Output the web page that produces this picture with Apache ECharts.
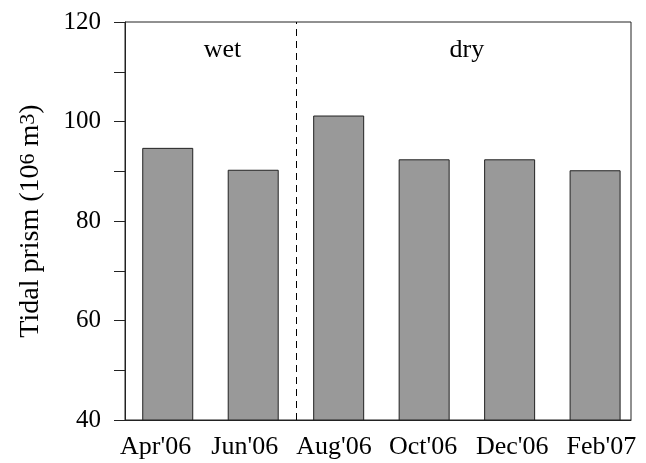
<!DOCTYPE html>
<html>
<head>
<meta charset="utf-8">
<script src="https://cdn.jsdelivr.net/npm/echarts@6/dist/echarts.min.js"></script>
<style>
  html, body { margin: 0; padding: 0; background: #fff; }
  #chart { width: 646px; height: 463px; }
</style>
</head>
<body>
<div id="chart"></div>
<script>
const months = ["Apr'06", "Jun'06", "Aug'06", "Oct'06", "Dec'06", "Feb'07"];
const prism = [94.7, 90.3, 101.2, 92.4, 92.4, 90.2];
const yTicks = [40, 60, 80, 100, 120];
const seasons = [
  { name: "wet", x: 0.64, y: 114.3 },
  { name: "dry", x: 3.5, y: 114.3 }
];
const seasonSplit = 1.5;

const font = "'Liberation Serif', 'Times New Roman', serif";
const chart = echarts.init(document.getElementById("chart"));

const option = {
  animation: false,
  textStyle: { fontFamily: font },
  grid: [
    { left: 125, top: 22, right: 15, bottom: 43, show: true, borderColor: "#222", borderWidth: 1 },
    // label strip: the month labels are spaced a little wider than the bars
    { left: 111, top: 22, width: 540, bottom: 43, show: false }
  ],
  xAxis: [
    {
      type: "value",
      gridIndex: 0,
      min: -0.5,
      max: 5.42,
      splitLine: { show: false },
      axisLine: { show: true, onZero: false, lineStyle: { color: "#222" } },
      axisTick: { show: false },
      axisLabel: { show: false }
    },
    {
      type: "category",
      gridIndex: 1,
      data: months,
      axisLine: { show: false },
      axisTick: { show: false },
      splitLine: { show: false },
      axisLabel: { color: "#000", fontSize: 26, fontFamily: font, margin: 14, interval: 0 }
    }
  ],
  yAxis: [
    {
      type: "value",
      gridIndex: 0,
      min: yTicks[0],
      max: yTicks[yTicks.length - 1],
      interval: 20,
      splitLine: { show: false },
      axisLine: { show: true, onZero: false, lineStyle: { color: "#222" } },
      axisTick: { show: true, inside: false, length: 11, lineStyle: { color: "#222" } },
      minorTick: { show: true, splitNumber: 2, length: 11, lineStyle: { color: "#222" } },
      axisLabel: { color: "#000", fontSize: 25, fontFamily: font, margin: 24 },
      name: "{n|Tidal prism (10}{s|6}{n| m}{s|3}{n|)}",
      nameLocation: "middle",
      nameRotate: 90,
      nameGap: 80,
      nameTextStyle: {
        rich: {
          n: { fontSize: 28, fontFamily: font, color: "#000" },
          s: { fontSize: 22, fontFamily: font, color: "#000", verticalAlign: "top", lineHeight: 16 }
        }
      }
    },
    { type: "value", gridIndex: 1, show: false }
  ],
  series: [
    {
      type: "bar",
      xAxisIndex: 0,
      yAxisIndex: 0,
      data: prism.map((v, i) => [i, v]),
      barWidth: 51,
      itemStyle: { color: "#999999", borderColor: "#222", borderWidth: 1 },
      markLine: {
        silent: true,
        symbol: "none",
        label: { show: false },
        lineStyle: { color: "#000", type: [7, 5], width: 1 },
        data: [{ xAxis: seasonSplit }]
      },
      markPoint: {
        silent: true,
        symbol: "circle",
        symbolSize: 1,
        itemStyle: { color: "rgba(0,0,0,0)" },
        label: {
          show: true, position: "inside",
          color: "#000", fontSize: 26, fontFamily: font,
          formatter: (p) => p.name
        },
        data: seasons.map((s) => ({ name: s.name, coord: [s.x, s.y] }))
      }
    }
  ]
};
chart.setOption(option);
</script>
</body>
</html>
